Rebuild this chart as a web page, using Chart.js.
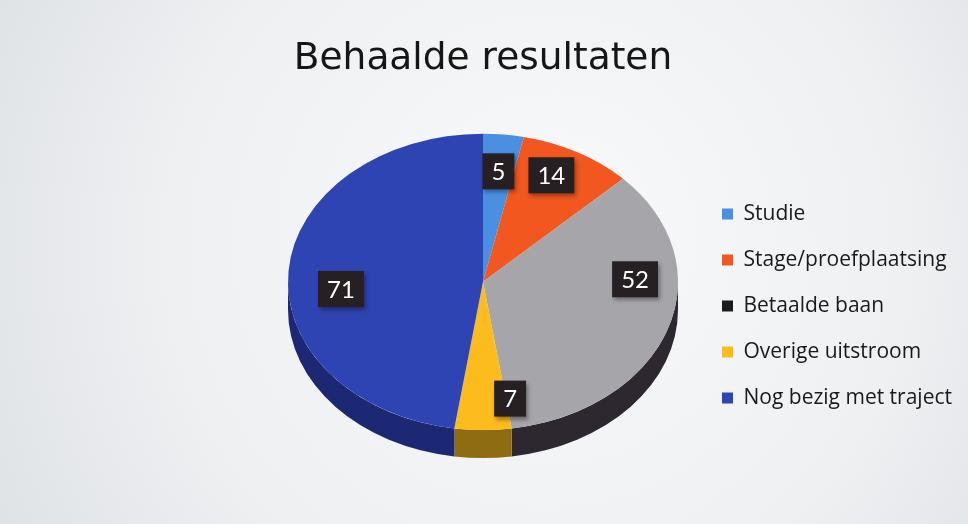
<!DOCTYPE html>
<html>
<head>
<meta charset="utf-8">
<script src="https://cdn.jsdelivr.net/npm/chart.js@4.4.1/dist/chart.umd.min.js"></script>
<style>
  html, body { margin: 0; padding: 0; background: #eceef0; }
</style>
</head>
<body>
<canvas id="resultChart" width="968" height="524"></canvas>
<script>
// Data
const categories = ["Studie", "Stage/proefplaatsing", "Betaalde baan", "Overige uitstroom", "Nog bezig met traject"];
const values = [5, 14, 52, 7, 71];

// Colours
const topColors = ["#4a8fe2", "#f1571f", "#a6a6aa", "#fcbc1e", "#2f44b3"];
const sideColors = ["#2a5592", "#8c3212", "#2d2830", "#8e6c12", "#1d2874"];
const legendColors = ["#4a8fe2", "#f1571f", "#1c1c1c", "#fcbc1e", "#2f44b3"];

// 3D look
const tilt = 0.76;       // vertical squash of the pie
const depth = 28;        // thickness of the side wall
const labelRadius = [0.75, 0.8, 0.78, 0.8, 0.73];
const labelNudge = [0, -3, -20, -10, -8]; // degrees, where Excel put the labels

// Layout numbers
const legendFontSize = 21;
const legendPad = 25;
const legendBox = 11;
const legendLeft = 697;
const pieCenterX = 483;

let m = document.createElement("canvas").getContext("2d");
m.font = legendFontSize + "px 'Open Sans'";
let textW = Math.max(...categories.map(c => m.measureText(c).width));
let legendWidth = legendPad + legendBox + legendFontSize / 2 + textW + 10;
let padRight = Math.max(0, 968 - legendLeft - legendWidth);
let padLeft = 2 * pieCenterX - legendLeft;

// Background
const paperBackground = {
  id: "paperBackground",
  beforeDraw: (chart) => {
    const { ctx, width, height } = chart;
    let g = ctx.createRadialGradient(560, 230, 40, 520, 260, 640);
    g.addColorStop(0, "#f7f8f9");
    g.addColorStop(0.55, "#eef0f2");
    g.addColorStop(1, "#dcdfe3");
    ctx.save();
    ctx.fillStyle = g;
    ctx.fillRect(0, 0, width, height);
    ctx.restore();
  }
};

// Squash the pie and give it a side wall
const pie3d = {
  id: "pie3d",
  beforeDatasetsDraw: (chart) => {
    const ctx = chart.ctx;
    const arcs = chart.getDatasetMeta(0).data;
    const cx = arcs[0].x, cy = arcs[0].y, R = arcs[0].outerRadius;

    ctx.save();
    arcs.forEach((arc, i) => {
      let s = Math.max(arc.startAngle, 0);
      let e = Math.min(arc.endAngle, Math.PI);
      if (e <= s) return;
      ctx.beginPath();
      ctx.ellipse(cx, cy, R, R * tilt, 0, s, e);
      ctx.ellipse(cx, cy + depth, R, R * tilt, 0, e, s, true);
      ctx.closePath();
      ctx.fillStyle = sideColors[i];
      ctx.fill();
    });
    ctx.restore();

    ctx.save();
    ctx.translate(0, cy);
    ctx.scale(1, tilt);
    ctx.translate(0, -cy);
  },
  afterDatasetsDraw: (chart) => {
    const ctx = chart.ctx;
    ctx.restore();

    const arcs = chart.getDatasetMeta(0).data;
    ctx.save();
    ctx.font = "24px Lato";
    ctx.textAlign = "center";
    ctx.textBaseline = "middle";
    arcs.forEach((arc, i) => {
      let mid = (arc.startAngle + arc.endAngle) / 2 + labelNudge[i] * Math.PI / 180;
      let r = arc.outerRadius * labelRadius[i];
      let x = arc.x + r * Math.cos(mid);
      let y = arc.y + r * tilt * Math.sin(mid);
      let txt = String(values[i]);
      let w = ctx.measureText(txt).width + 18;
      let h = 36;
      ctx.shadowColor = "rgba(0,0,0,0.35)";
      ctx.shadowBlur = 4;
      ctx.shadowOffsetX = 2;
      ctx.shadowOffsetY = 3;
      ctx.fillStyle = "#262022";
      ctx.fillRect(x - w / 2, y - h / 2, w, h);
      ctx.shadowColor = "transparent";
      ctx.fillStyle = "#ffffff";
      ctx.fillText(txt, x, y + 1);
    });
    ctx.restore();
  }
};

let resultChart = new Chart(document.getElementById("resultChart"), {
  type: "pie",
  data: {
    labels: categories,
    datasets: [
      {
        data: values,
        backgroundColor: topColors,
        borderWidth: 0,
        clip: false
      }
    ]
  },
  options: {
    responsive: false,
    animation: false,
    events: [],
    radius: 195,
    layout: {
      padding: { left: padLeft, right: padRight, top: 0, bottom: 41.6 }
    },
    plugins: {
      title: {
        display: true,
        text: "Behaalde resultaten",
        fullSize: false,
        color: "#161616",
        font: { family: "DejaVu Sans", size: 37.5, weight: "normal", lineHeight: 1.2 },
        padding: { top: 36.3, bottom: 0 }
      },
      legend: {
        position: "right",
        // empty title only pushes the item list down
        title: { display: true, text: " ", font: { size: 12, lineHeight: 1.2 }, padding: { top: 115.2, bottom: 0 } },
        labels: {
          boxWidth: legendBox,
          boxHeight: legendBox,
          padding: legendPad,
          color: "#1a1a1a",
          font: { family: "'Open Sans'", size: legendFontSize },
          generateLabels: () => categories.map((c, i) => ({
            text: c,
            fillStyle: legendColors[i],
            strokeStyle: legendColors[i],
            lineWidth: 0,
            hidden: false,
            index: i,
            fontColor: "#1a1a1a"
          }))
        }
      },
      tooltip: { enabled: false }
    }
  },
  plugins: [paperBackground, pie3d]
});
</script>
</body>
</html>
